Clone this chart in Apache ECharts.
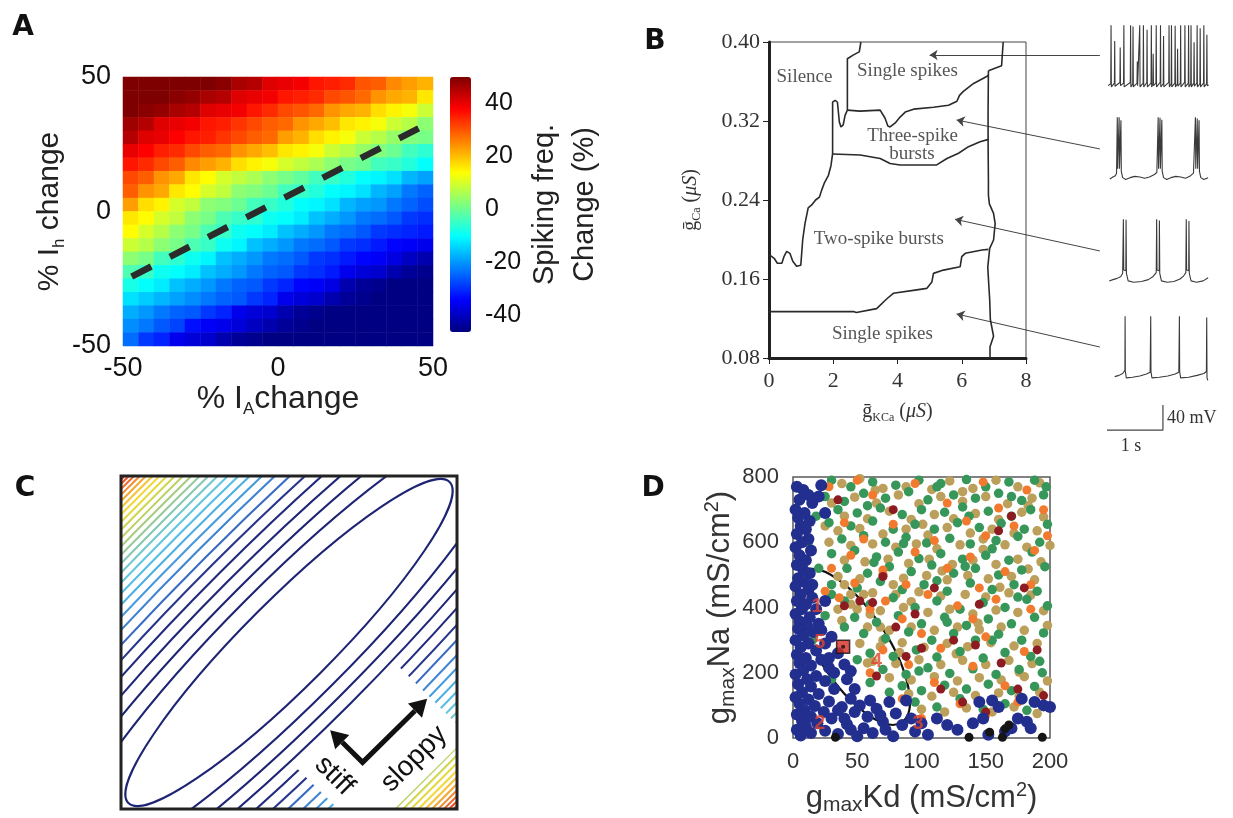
<!DOCTYPE html>
<html>
<head>
<meta charset="utf-8">
<script src="https://cdn.jsdelivr.net/npm/echarts@6.0.0/dist/echarts.min.js"></script>
<style>
  html, body { margin: 0; padding: 0; background: #ffffff; }
  #c { width: 1233px; height: 818px; }
</style>
</head>
<body>
<div id="c"></div>
<script>
// ---------------- Panel A: spiking frequency change (%) ----------------
// 20 x 20 grid, columns = % I_A change (-50 .. 50), rows = % I_h change (top row = +50)
const freqRows = [
  [50,50,50,50,50,50,49,46,45,41,40,39,36,35,34,30,29,25,23,21],
  [50,50,50,49,48,46,45,41,40,39,36,35,34,31,30,28,24,22,21,16],
  [50,49,48,46,45,41,40,39,36,34,31,30,28,24,22,21,17,15,13,9],
  [47,45,41,40,39,36,35,33,31,29,28,24,22,20,16,15,13,9,7,3],
  [45,41,40,38,36,35,33,31,29,28,23,21,17,15,13,9,7,4,2,1],
  [40,38,35,34,31,29,28,24,22,20,16,15,13,9,7,4,2,0,-4,-6],
  [36,34,31,29,25,23,21,17,15,13,10,8,6,3,1,0,-4,-5,-7,-10],
  [31,29,24,22,16,14,10,8,6,3,1,-1,-4,-5,-7,-10,-11,-13,-17,-19],
  [29,24,22,16,14,10,8,3,2,0,-4,-5,-7,-10,-11,-13,-17,-19,-23,-25],
  [23,17,15,10,8,3,2,0,-4,-5,-7,-10,-11,-13,-17,-19,-20,-23,-25,-27],
  [16,14,10,8,3,1,-3,-5,-6,-9,-10,-12,-16,-18,-20,-23,-24,-26,-29,-30],
  [14,10,7,3,1,-3,-5,-9,-10,-12,-16,-18,-20,-23,-24,-26,-29,-30,-31,-32],
  [9,7,3,1,-3,-5,-9,-11,-16,-18,-20,-23,-24,-26,-29,-30,-32,-34,-35,-36],
  [3,1,-4,-6,-9,-11,-16,-18,-20,-23,-24,-26,-29,-30,-32,-34,-35,-37,-40,-42],
  [-3,-5,-9,-10,-12,-16,-18,-20,-23,-25,-26,-29,-30,-32,-36,-38,-39,-42,-44,-45],
  [-8,-10,-12,-16,-18,-20,-23,-25,-26,-29,-31,-34,-35,-37,-42,-44,-45,-46,-46,-46],
  [-13,-15,-17,-19,-21,-23,-25,-26,-29,-31,-36,-38,-39,-42,-44,-45,-46,-46,-46,-46],
  [-18,-20,-23,-25,-26,-29,-31,-36,-38,-39,-42,-44,-45,-46,-46,-46,-46,-46,-46,-46],
  [-21,-23,-26,-28,-33,-35,-36,-38,-40,-42,-44,-45,-46,-46,-46,-46,-46,-46,-46,-46],
  [-24,-29,-31,-36,-38,-39,-42,-44,-45,-46,-46,-46,-46,-46,-46,-46,-46,-46,-46,-46]
];
const colorbarTicks = [-40, -20, 0, 20, 40];
const isoFreqLine = [[-47.2, -24.2], [48.5, 32.8]];   // equal-frequency direction

// ---------------- Panel B: activity map in (gKCa, gCa) ----------------
const silenceEdge = [[0,0.184],[0.08,0.183],[0.16,0.181],[0.26,0.176],[0.40,0.176],[0.47,0.183],[0.55,0.188],[0.65,0.186],[0.74,0.178],[0.86,0.173],[0.99,0.174],[1.05,0.200],[1.12,0.216],[1.22,0.232],[1.33,0.235],[1.45,0.240],[1.57,0.243],[1.64,0.250],[1.72,0.257],[1.85,0.265],[1.93,0.275],[1.98,0.287],[1.98,0.339],[2.06,0.341],[2.13,0.339],[2.19,0.319],[2.24,0.314],[2.31,0.316],[2.37,0.326],[2.44,0.331],[2.44,0.383],[2.63,0.387],[2.81,0.390],[2.86,0.400]];
const threeSpikeTop = [[2.44,0.331],[2.83,0.330],[3.46,0.331],[3.61,0.323],[3.70,0.315],[3.77,0.314],[3.93,0.318],[4.08,0.324],[4.24,0.329],[4.50,0.332],[5.12,0.334],[5.59,0.336],[5.85,0.340],[5.93,0.346],[6.05,0.350],[6.37,0.358],[6.66,0.363],[6.83,0.366]];
const singleTopEdge = [[6.83,0.371],[7.24,0.376],[7.29,0.378],[7.29,0.400]];
const threeSpikeBottom = [[1.98,0.2866],[2.84,0.2856],[3.46,0.282],[3.77,0.277],[4.08,0.2755],[4.70,0.2755],[5.22,0.2755],[5.54,0.282],[5.90,0.2873],[6.21,0.294],[6.57,0.299],[6.83,0.3014]];
const twoSpikeBottom = [[0,0.127],[2.63,0.127],[2.72,0.126],[3.35,0.130],[3.67,0.140],[3.87,0.1455],[4.60,0.149],[4.91,0.1505],[5.07,0.157],[5.12,0.1657],[5.43,0.169],[5.95,0.1724],[6.00,0.1826],[6.11,0.186],[6.63,0.1894],[6.83,0.190]];
const rightEdge = [[6.83,0.371],[6.82,0.330],[6.82,0.300],[6.83,0.260],[6.83,0.245],[6.86,0.236],[6.99,0.2265],[7.04,0.216],[6.99,0.1995],[6.87,0.191],[6.81,0.172],[6.84,0.155],[6.87,0.139],[6.89,0.119],[6.99,0.102],[6.88,0.0915],[6.88,0.080]];
const regionLabels = [
  { name: 'Silence', value: [1.105, 0.3646] },
  { name: 'Single spikes', value: [4.31, 0.3706] },
  { name: 'Three-spike', value: [4.47, 0.3048] },
  { name: 'bursts', value: [4.45, 0.2866] },
  { name: 'Two-spike bursts', value: [3.42, 0.2005] },
  { name: 'Single spikes', value: [3.53, 0.1043] }
];
const regionPointers = [
  [[10.3, 0.3868], [5.00, 0.3868]],
  [[10.3, 0.2917], [5.84, 0.3210]],
  [[10.3, 0.1884], [5.79, 0.2205]],
  [[10.3, 0.0911], [5.84, 0.1246]]
];
// membrane potential traces: [time (s), voltage (mV)]
const traceSingleFast = [[0,-60],[0.045,-57],[0.05,35],[0.055,-62],[0.105,-56],[0.11,10],[0.115,-61],[0.195,-55],[0.2,0],[0.205,-60],[0.255,-56],[0.26,35],[0.265,-62],[0.365,-55],[0.37,35],[0.375,-62],[0.405,-57],[0.41,33],[0.415,-62],[0.475,-56],[0.48,-22],[0.485,-60],[0.515,-57],[0.52,35],[0.525,-62],[0.575,-56],[0.58,35],[0.585,-62],[0.635,-55],[0.64,28],[0.645,-62],[0.705,-56],[0.71,35],[0.715,-62],[0.735,-58],[0.74,-10],[0.745,-60],[0.785,-56],[0.79,35],[0.795,-62],[0.855,-55],[0.86,35],[0.865,-62],[0.905,-57],[0.91,18],[0.915,-62],[0.995,-55],[1.0,35],[1.005,-62],[1.035,-57],[1.04,35],[1.045,-62],[1.095,-56],[1.1,34],[1.105,-62],[1.135,-57],[1.14,-2],[1.145,-61],[1.185,-56],[1.19,35],[1.195,-62],[1.255,-55],[1.26,35],[1.265,-62],[1.315,-56],[1.32,35],[1.325,-62],[1.355,-57],[1.36,35],[1.365,-62],[1.405,-56],[1.41,8],[1.415,-61],[1.455,-56],[1.46,35],[1.465,-62],[1.505,-57],[1.51,30],[1.515,-62],[1.565,-56],[1.57,35],[1.575,-62],[1.615,-57],[1.62,20],[1.625,-60],[1.65,-59]];
const traceThreeBurst = [[0.03,-62],[0.08,-59],[0.12,-57],[0.14,-53],[0.148,-50],[0.152,35],[0.158,-46],[0.178,-47],[0.182,35],[0.188,-46],[0.208,-48],[0.212,30],[0.218,-50],[0.24,-60],[0.29,-63],[0.36,-60],[0.44,-58],[0.52,-59],[0.6,-61],[0.68,-59],[0.76,-55],[0.8,-52],[0.818,-50],[0.822,35],[0.828,-46],[0.848,-47],[0.852,34],[0.858,-46],[0.878,-48],[0.882,31],[0.888,-50],[0.91,-60],[0.96,-63],[1.03,-60],[1.11,-58],[1.19,-59],[1.27,-61],[1.34,-58],[1.4,-53],[1.428,-50],[1.432,35],[1.438,-46],[1.458,-47],[1.462,33],[1.468,-46],[1.488,-48],[1.492,30],[1.498,-50],[1.52,-60],[1.57,-63],[1.64,-60]];
const traceTwoBurst = [[0.02,-62],[0.08,-60],[0.15,-58],[0.21,-55],[0.24,-50],[0.248,-47],[0.252,35],[0.258,-45],[0.292,-46],[0.296,34],[0.302,-50],[0.33,-62],[0.42,-64],[0.55,-63],[0.66,-60],[0.74,-55],[0.79,-49],[0.797,35],[0.803,-45],[0.838,-46],[0.842,33],[0.848,-50],[0.875,-62],[0.97,-64],[1.08,-63],[1.18,-59],[1.24,-54],[1.275,-49],[1.282,35],[1.288,-45],[1.322,-46],[1.326,32],[1.332,-50],[1.36,-62],[1.45,-64],[1.56,-62],[1.64,-57]];
const traceSingleSlow = [[0.11,-60],[0.18,-58],[0.24,-55],[0.27,-52],[0.277,-50],[0.28,35],[0.284,-52],[0.3,-62],[0.4,-61],[0.52,-59],[0.63,-56],[0.69,-53],[0.697,-50],[0.70,35],[0.704,-52],[0.72,-62],[0.84,-61],[0.98,-59],[1.1,-56],[1.16,-53],[1.167,-50],[1.17,35],[1.174,-52],[1.19,-62],[1.32,-61],[1.46,-58],[1.57,-55],[1.612,-52],[1.617,33],[1.622,-62],[1.635,-66]];
const scaleBar = [[-0.098, -143.9], [0.9, -143.9], [0.9, -104.6]];   // 1 s by 40 mV

// ---------------- Panel C: cost-function contours ----------------
// semi-axis of each contour across the stiff direction (box spans -1 .. 1)
const contourMinor = [0.260,0.360,0.440,0.515,0.585,0.650,0.710,0.770,0.822,0.872,0.918,0.962,1.004,1.042,1.078,1.113,1.148,1.182,1.215,1.246,1.275,1.303,1.329,1.353,1.375,1.393,1.410];
const contourColors = ['#1e2474','#1e2474','#1e2474','#1f2677','#212a7c','#28368c',
  '#3a6cc4','#4084d2','#469ade','#4cb0e4',
  '#54bee6','#62c6de','#72c8cc',
  '#84cab4','#96cb9a','#a8cd80','#bcd268',
  '#d0d650','#e4da44','#f2d83c','#f6c438',
  '#f4a834','#f28c32','#ee6e30',
  '#e8542e','#de3e2c','#d02c2c'];
const sloppyRatio = 5.2;

// ---------------- Panel D: maximal conductances of model neurons ----------------
const ptsTan = [[38,780],[52,795],[70,765],[88,770],[108,762],[122,788],[140,765],[158,790],[175,770],[192,782],
  [30,720],[48,738],[65,720],[82,745],[98,718],[115,740],[132,725],[150,740],[167,718],[186,735],
  [40,680],[58,672],[75,695],[92,670],[110,685],[125,672],[142,688],[160,670],[178,692],[195,678],
  [35,635],[52,642],[70,625],[88,640],[105,622],[120,645],[138,628],[155,640],[172,628],[190,635],
  [45,590],[62,595],[80,585],[96,595],[112,580],[130,592],[148,578],[165,592],[182,585],[200,590],
  [40,545],[56,540],[74,548],[90,535],[106,548],[124,532],[140,545],[158,532],[175,548],[193,540],
  [35,495],[52,488],[70,500],[86,490],[104,498],[120,485],[136,498],[152,488],[170,495],[188,485],
  [45,440],[62,445],[80,440],[98,448],[115,435],[134,440],[150,432],[168,445],[185,438],
  [50,395],[68,390],[86,400],[105,385],[122,395],[140,380],[158,392],[175,385],[195,390],
  [38,360],[58,340],[75,330],[92,340],[110,330],[128,340],[145,332],[162,340],[180,330],[198,345],
  [52,290],[68,280],[85,292],[102,278],[120,290],[136,280],[154,292],[172,282],[190,290],
  [62,235],[80,228],[98,240],[115,225],[132,238],[150,225],[168,238],[186,228],
  [75,185],[92,178],[110,188],[128,175],[145,185],[162,178],[180,188],[198,175],
  [90,135],[108,128],[125,140],[142,130],[160,138],[176,128],[192,140],
  [100,88],[118,80],[135,92],[155,80],[172,95],[190,75],
  [55,440],[45,410],[35,395],[60,380],[68,340],[58,230],[70,300],[40,470],[28,600],[25,650],
  [64,760],[132,755],[183,712],[101,655],[148,610],[116,512],[183,518],[78,470],[161,462],[92,418],[144,352],[83,262],[127,258],[176,202]];
const ptsGreen = [[30,790],[45,770],[62,785],[80,775],[98,790],[115,780],[135,792],[150,770],[168,785],[188,790],[197,770],
  [25,740],[40,725],[55,750],[72,735],[90,755],[105,730],[125,745],[142,735],[160,750],[178,728],[195,745],
  [35,700],[50,690],[68,705],[85,685],[100,700],[118,692],[132,708],[152,695],[170,680],[185,700],
  [28,660],[45,650],[62,665],[78,640],[95,655],[110,640],[128,660],[145,645],[162,658],[180,640],[198,655],
  [38,610],[55,620],[72,600],[88,615],[104,598],[122,612],[138,595],[158,605],[175,618],[192,600],
  [30,565],[48,575],[65,555],[82,570],[98,550],[115,565],[132,548],[150,560],[168,545],[186,570],
  [42,520],[58,505],[75,525],[92,510],[108,530],[125,505],[142,520],[160,500],[178,515],[196,525],
  [30,470],[50,460],[68,480],[85,455],[102,470],[120,450],[138,475],[155,455],[172,470],[190,450],
  [40,420],[60,410],[78,430],[95,400],[112,420],[130,395],[148,415],[165,400],[182,425],[198,405],
  [48,370],[65,355],[82,375],[100,350],[118,370],[135,345],[152,365],[170,350],[188,370],
  [55,320],[72,305],[90,325],[108,300],[125,320],[142,300],[160,318],[178,300],[195,322],
  [60,260],[78,250],[96,270],[112,248],[130,265],[148,245],[165,262],[185,250],
  [70,210],[88,195],[105,215],[122,198],[140,212],[158,195],[176,210],[194,200],
  [85,160],[100,145],[118,162],[135,150],[152,165],[170,145],[188,158],
  [95,110],[112,95],[130,120],[148,88],[165,105],[182,85],
  [40,340],[25,375],[15,300],[30,440],[20,520],[12,600],[18,680],[50,240],[30,180],[60,170],[75,140],[45,200],
  [112,770],[170,740],[58,712],[137,680],[86,596],[155,580],[63,538],[134,526],[112,482],[175,432],[120,355],[98,205],[155,300],[192,235]];
const ptsOrange = [[50,790],[95,780],[148,785],[182,760],[28,770],[62,745],[120,720],[160,705],[195,700],[40,660],[78,655],[135,665],[172,650],[55,610],[110,605],[150,620],[188,575],[45,560],[95,570],[138,555],[30,520],[70,515],[120,520],[165,510],[48,475],[88,470],[145,460],[185,470],[36,430],[72,420],[105,440],[158,425],[60,395],[128,405],[185,395],[85,365],[140,365],[100,320],[150,310],[70,270],[115,275],[180,265],[90,225],[140,220],[60,200],[110,170],[165,160],[85,120],[130,105],[175,110],[100,60],[150,70],[65,90],[198,620],[25,450]];
const ptsDarkRed = [[35,730],[78,700],[170,680],[160,635],[52,420],[62,415],[40,405],[70,495],[95,380],[125,300],[142,285],[100,275],[88,250],[65,190],[115,150],[132,110],[150,80],[190,270],[162,230],[175,150],[145,410],[110,460],[180,460],[195,130],[80,340]];
const ptsBlue = [[3,770],[8,760],[12,745],[5,730],[15,720],[2,700],[9,690],[4,675],[13,665],[6,650],[10,640],[3,625],[12,610],[7,600],[2,585],[14,575],[5,560],[10,545],[3,530],[8,515],[13,505],[4,490],[9,478],[2,465],[12,455],[6,440],[15,430],[3,420],[10,410],[7,395],[2,380],[13,370],[5,358],[11,345],[4,335],[16,325],[8,315],[2,300],[12,290],[6,278],[18,268],[3,255],[10,245],[22,240],[5,230],[14,222],[28,215],[8,208],[2,195],[18,190],[11,180],[25,175],[4,165],[14,158],[32,150],[7,140],[20,135],[2,125],[12,118],[28,112],[5,105],[17,98],[38,95],[9,85],[24,80],[3,72],[14,65],[30,60],[7,52],[19,45],[42,42],[10,35],[3,25],[25,22],[14,15],[35,12],[6,8],
  [22,330],[30,310],[25,290],[35,260],[28,245],[40,225],[32,200],[45,205],[20,350],[18,395],[25,420],[15,470],[22,775],[20,740],[25,690],
  [45,120],[52,100],[60,115],[48,80],[58,65],[65,90],[70,50],[75,110],[80,75],[85,40],[88,115],[92,60],[95,20],[55,30],[62,15],[40,60],[45,25],[72,25],[100,45],[105,10],[78,5],[50,5],[68,70],[35,85],[48,150],[42,180],
  [120,40],[128,25],[140,45],[148,60],[155,115],[160,95],[170,30],[175,60],[182,50],[188,110],[195,100],[200,95],[178,120],[165,20],[145,110],[152,10],[185,30],[112,60]];
const ptsBlack = [[33,2],[137,2],[153,18],[163,2],[165,28],[168,40],[194,2]];
const refModel = [39, 280];
const modelLabels = [
  { name: '1', value: [18.7, 404] },
  { name: '5', value: [20.8, 292] },
  { name: '4', value: [65, 234] },
  { name: '2', value: [20.8, 46] },
  { name: '3', value: [97.4, 46] }
];
const fitEllipse = { center: [46.5, 279], semiMajor: 70, semiMinor: 27.3, tiltDeg: -57 };

// ---------------- drawing ----------------
const SANS = "'Liberation Sans', Arial, Helvetica, sans-serif";
const SERIF = "'Liberation Serif', 'DejaVu Serif', serif";
const jet = ['#00007f','#0000ff','#007fff','#00ffff','#7fff7f','#ffff00','#ff7f00','#ff0000','#7f0000'];

const heatData = [];
freqRows.forEach((row, r) => row.forEach((v, c) => heatData.push([c, freqRows.length - 1 - r, v])));
const idx20 = freqRows[0].map((_, i) => i);

const chart = echarts.init(document.getElementById('c'), null, { renderer: 'canvas', width: 1233, height: 818 });

function hiddenValueAxis(grid, min, max) {
  return { type: 'value', gridIndex: grid, min: min, max: max, show: false };
}

const traceTops = [22, 114, 216, 313];
const traces = [traceSingleFast, traceThreeBurst, traceTwoBurst, traceSingleSlow];

function arrowHead(tip, from, len, half) {
  const dx = tip[0] - from[0], dy = tip[1] - from[1];
  const L = Math.hypot(dx, dy), ux = dx / L, uy = dy / L;
  const bx = tip[0] - ux * len, by = tip[1] - uy * len;
  return { base: [bx, by], points: [[tip[0], tip[1]], [bx - uy * half, by + ux * half], [bx + uy * half, by - ux * half]] };
}

const option = {
  animation: false,
  backgroundColor: '#ffffff',
  textStyle: { fontFamily: SANS },
  grid: [
    { left: 123, top: 77, width: 310, height: 269 },                 // 0 A
    { left: 450, top: 77, width: 21, height: 255 },                  // 1 colorbar
    { left: 769, top: 42, width: 257, height: 316, show: true, borderColor: '#444', borderWidth: 1 }, // 2 B
    { left: 1108, top: traceTops[0], width: 105, height: 70 },       // 3..6 traces
    { left: 1108, top: traceTops[1], width: 105, height: 70 },
    { left: 1108, top: traceTops[2], width: 105, height: 70 },
    { left: 1108, top: traceTops[3], width: 105, height: 70 },
    { left: 121, top: 476, width: 336, height: 333 },                // 7 C
    { left: 793, top: 477, width: 257, height: 261, show: true, borderColor: '#5a5a5a', borderWidth: 1.5 } // 8 D
  ],
  xAxis: [
    { type: 'category', gridIndex: 0, data: idx20, show: false, position: 'top' },
    { type: 'value', gridIndex: 0, position: 'bottom', min: -50, max: 50, interval: 50,
      axisLine: { show: false }, axisTick: { show: false }, splitLine: { show: false },
      axisLabel: { fontSize: 27, color: '#111', margin: 9, fontFamily: SANS },
      name: '{a|% I}{b|A}{a|change}', nameLocation: 'middle', nameGap: 26,
      nameTextStyle: { color: '#222', rich: {
        a: { fontSize: 32, lineHeight: 38, fontFamily: SANS, color: '#222' },
        b: { fontSize: 17, lineHeight: 22, verticalAlign: 'bottom', fontFamily: SANS, color: '#222' } } } },
    hiddenValueAxis(1, 0, 1),
    { type: 'value', gridIndex: 2, min: 0, max: 8, interval: 2,
      axisLine: { lineStyle: { color: '#222', width: 3 } },
      axisTick: { show: true, length: 6, lineStyle: { color: '#222', width: 1 } },
      splitLine: { show: false },
      axisLabel: { fontSize: 22, color: '#333', margin: 12, fontFamily: SERIF },
      name: '{g|ḡ}{sub|KCa}{g| (}{it|μS}{g|)}', nameLocation: 'middle', nameGap: 42,
      nameTextStyle: { rich: {
        g: { fontSize: 20, lineHeight: 24, fontFamily: SERIF, color: '#333' },
        it: { fontSize: 20, lineHeight: 24, fontFamily: SERIF, fontStyle: 'italic', color: '#333' },
        sub: { fontSize: 12, lineHeight: 13, verticalAlign: 'bottom', fontFamily: SERIF, color: '#333' } } } },
    hiddenValueAxis(3, 0, 1.72),
    hiddenValueAxis(4, 0, 1.72),
    hiddenValueAxis(5, 0, 1.72),
    hiddenValueAxis(6, 0, 1.72),
    hiddenValueAxis(7, -1, 1),
    { type: 'value', gridIndex: 8, min: 0, max: 200, interval: 50,
      axisLine: { show: false }, axisTick: { show: false }, splitLine: { show: false },
      axisLabel: { fontSize: 22, color: '#333', margin: 13, fontFamily: SANS },
      name: '{g|g}{s|max}{g|Kd (mS/cm}{p|2}{g|)}', nameLocation: 'middle', nameGap: 42,
      nameTextStyle: { rich: {
        g: { fontSize: 31, lineHeight: 36, fontFamily: SANS, color: '#333' },
        s: { fontSize: 21, lineHeight: 26, verticalAlign: 'bottom', fontFamily: SANS, color: '#333' },
        p: { fontSize: 20, lineHeight: 20, verticalAlign: 'top', fontFamily: SANS, color: '#333' } } } }
  ],
  yAxis: [
    { type: 'category', gridIndex: 0, data: idx20, show: false, position: 'right' },
    { type: 'value', gridIndex: 0, position: 'left', min: -50, max: 50, interval: 50,
      axisLine: { show: false }, axisTick: { show: false }, splitLine: { show: false },
      axisLabel: { fontSize: 27, color: '#111', margin: 12, fontFamily: SANS },
      name: '{a|% I}{b|h}{a| change}', nameLocation: 'middle', nameRotate: 90, nameGap: 43,
      nameTextStyle: { rich: {
        a: { fontSize: 30, lineHeight: 36, fontFamily: SANS, color: '#222' },
        b: { fontSize: 17, lineHeight: 22, verticalAlign: 'bottom', fontFamily: SANS, color: '#222' } } } },
    { type: 'value', gridIndex: 1, min: -46.4, max: 50, position: 'right',
      axisLine: { show: false }, axisTick: { show: false }, splitLine: { show: false },
      axisLabel: { customValues: colorbarTicks, fontSize: 25, color: '#111', margin: 14, fontFamily: SANS },
      name: 'Spiking freq.\nChange (%)', nameLocation: 'middle', nameRotate: 90, nameGap: 50,
      nameTextStyle: { fontSize: 29, lineHeight: 40, color: '#222', fontFamily: SANS } },
    { type: 'value', gridIndex: 2, min: 0.08, max: 0.40, interval: 0.08,
      axisLine: { lineStyle: { color: '#222', width: 3 } },
      axisTick: { show: true, length: 6, lineStyle: { color: '#222', width: 1 } },
      splitLine: { show: false },
      axisLabel: { fontSize: 22, color: '#333', margin: 9, fontFamily: SERIF, formatter: v => v.toFixed(2) },
      name: '{g|ḡ}{sub|Ca}{g| (}{it|μS}{g|)}', nameLocation: 'middle', nameRotate: 90, nameGap: 66,
      nameTextStyle: { rich: {
        g: { fontSize: 20, lineHeight: 24, fontFamily: SERIF, color: '#333' },
        it: { fontSize: 20, lineHeight: 24, fontFamily: SERIF, fontStyle: 'italic', color: '#333' },
        sub: { fontSize: 12, lineHeight: 13, verticalAlign: 'bottom', fontFamily: SERIF, color: '#333' } } } },
    hiddenValueAxis(3, -70, 40),
    hiddenValueAxis(4, -70, 40),
    hiddenValueAxis(5, -70, 40),
    hiddenValueAxis(6, -70, 40),
    hiddenValueAxis(7, -1, 1),
    { type: 'value', gridIndex: 8, min: 0, max: 800, interval: 200,
      axisLine: { show: false }, axisTick: { show: false }, splitLine: { show: false },
      axisLabel: { fontSize: 22, color: '#333', margin: 14, fontFamily: SANS },
      name: '{g|g}{s|max}{g|Na (mS/cm}{p|2}{g|)}', nameLocation: 'middle', nameRotate: 90, nameGap: 52,
      nameTextStyle: { rich: {
        g: { fontSize: 31, lineHeight: 36, fontFamily: SANS, color: '#333' },
        s: { fontSize: 21, lineHeight: 26, verticalAlign: 'bottom', fontFamily: SANS, color: '#333' },
        p: { fontSize: 20, lineHeight: 20, verticalAlign: 'top', fontFamily: SANS, color: '#333' } } } }
  ],
  visualMap: {
    type: 'continuous', seriesIndex: 0, dimension: 2, min: -46.4, max: 50,
    calculable: false, hoverLink: false, orient: 'vertical',
    left: 450, top: 77, itemWidth: 21, itemHeight: 255, padding: 0, text: null,
    inRange: { color: jet }
  },
  graphic: [
    { type: 'text', x: 23, y: 28, style: { text: 'A', fontSize: 28, fontWeight: 'bold', fontFamily: "'DejaVu Sans', sans-serif", fill: '#111', align: 'center', verticalAlign: 'middle' } },
    { type: 'text', x: 655, y: 42, style: { text: 'B', fontSize: 28, fontWeight: 'bold', fontFamily: "'DejaVu Sans', sans-serif", fill: '#111', align: 'center', verticalAlign: 'middle' } },
    { type: 'text', x: 25, y: 489, style: { text: 'C', fontSize: 28, fontWeight: 'bold', fontFamily: "'DejaVu Sans', sans-serif", fill: '#111', align: 'center', verticalAlign: 'middle' } },
    { type: 'text', x: 653, y: 489, style: { text: 'D', fontSize: 28, fontWeight: 'bold', fontFamily: "'DejaVu Sans', sans-serif", fill: '#111', align: 'center', verticalAlign: 'middle' } },
    { type: 'text', x: 1167, y: 418, style: { text: '40 mV', fontSize: 18, fontFamily: SERIF, fill: '#333', align: 'left', verticalAlign: 'middle' } },
    { type: 'text', x: 1131, y: 446, style: { text: '1 s', fontSize: 18, fontFamily: SERIF, fill: '#333', align: 'center', verticalAlign: 'middle' } }
  ],
  series: [
    // ---- A ----
    { type: 'heatmap', xAxisIndex: 0, yAxisIndex: 0, data: heatData, progressive: 0, emphasis: { disabled: true } },
    { type: 'line', xAxisIndex: 1, yAxisIndex: 1, data: isoFreqLine, symbol: 'none', z: 5,
      lineStyle: { color: '#2b2b2b', width: 6.5, type: [22, 21] } },
    // ---- B ----
    ...[silenceEdge, threeSpikeTop, singleTopEdge, threeSpikeBottom, twoSpikeBottom, rightEdge].map(edge => ({
      type: 'line', xAxisIndex: 3, yAxisIndex: 3, data: edge, symbol: 'none',
      lineStyle: { color: '#2a2a2a', width: 1.6 } })),
    { type: 'scatter', xAxisIndex: 3, yAxisIndex: 3, data: regionLabels, symbolSize: 0,
      label: { show: true, position: 'inside', formatter: '{b}', fontSize: 19, color: '#2b2b2b', fontFamily: SERIF } },
    { type: 'lines', coordinateSystem: 'cartesian2d', xAxisIndex: 3, yAxisIndex: 3, clip: false,
      symbol: ['none', 'arrow'], symbolSize: 8,
      lineStyle: { color: '#444', width: 1, opacity: 1 },
      data: regionPointers.map(p => ({ coords: p })) },
    ...traces.map((t, i) => ({
      type: 'line', xAxisIndex: 4 + i, yAxisIndex: 4 + i, data: t, symbol: 'none',
      lineStyle: { color: '#3a3a3a', width: 1.1 } })),
    { type: 'line', xAxisIndex: 7, yAxisIndex: 7, data: scaleBar, symbol: 'none', clip: false,
      lineStyle: { color: '#444', width: 1.2 } },
    // ---- C ----
    { type: 'custom', xAxisIndex: 8, yAxisIndex: 8, clip: true, silent: true,
      data: contourMinor.map((m, i) => [0, 0, m, i]),
      renderItem: (params, api) => {
        const c = api.coord([api.value(0), api.value(1)]);
        const ry = api.size([api.value(2), 0])[0];
        return { type: 'ellipse', x: c[0], y: c[1], rotation: Math.PI / 4,
          shape: { cx: 0, cy: 0, rx: ry * sloppyRatio, ry: ry },
          style: { fill: 'none', stroke: contourColors[api.value(3)], lineWidth: 2.1 } };
      } },
    { type: 'custom', xAxisIndex: 8, yAxisIndex: 8, clip: true, silent: true, data: [[0, 0]],
      renderItem: (params, api) => {
        // white panel behind the direction annotation
        const corners = [[0.0424, -0.750], [0.651, -0.141], [1.068, -0.559], [0.460, -1.167]];
        return { type: 'polygon', shape: { points: corners.map(p => api.coord(p)) }, style: { fill: '#ffffff' } };
      } },
    { type: 'custom', xAxisIndex: 8, yAxisIndex: 8, clip: false, silent: true, data: [[0.438, -0.72]],
      renderItem: (params, api) => {
        const corner = api.coord([api.value(0), api.value(1)]);
        const stiffTip = api.coord([0.245, -0.527]);
        const sloppyTip = api.coord([0.822, -0.338]);
        const h1 = arrowHead(stiffTip, corner, 17, 10);
        const h2 = arrowHead(sloppyTip, corner, 17, 10);
        const sTxt = api.coord([0.27, -0.80]);
        const lTxt = api.coord([0.745, -0.70]);
        return { type: 'group', children: [
          { type: 'polyline', shape: { points: [h1.base, corner, h2.base] }, style: { stroke: '#111', lineWidth: 5, fill: 'none', lineJoin: 'miter' } },
          { type: 'polygon', shape: { points: h1.points }, style: { fill: '#111' } },
          { type: 'polygon', shape: { points: h2.points }, style: { fill: '#111' } },
          { type: 'text', x: sTxt[0], y: sTxt[1], rotation: -Math.PI / 4,
            style: { text: 'stiff', fontSize: 28, fontFamily: SANS, fill: '#111', align: 'center', verticalAlign: 'middle' } },
          { type: 'text', x: lTxt[0], y: lTxt[1], rotation: Math.PI / 4,
            style: { text: 'sloppy', fontSize: 28, fontFamily: SANS, fill: '#111', align: 'center', verticalAlign: 'middle' } }
        ] };
      } },
    { type: 'custom', xAxisIndex: 8, yAxisIndex: 8, clip: false, silent: true, data: [[-1, 1, 1, -1]], z: 10,
      renderItem: (params, api) => {
        const a = api.coord([api.value(0), api.value(1)]);
        const b = api.coord([api.value(2), api.value(3)]);
        return { type: 'rect', shape: { x: a[0], y: a[1], width: b[0] - a[0], height: b[1] - a[1] },
          style: { fill: 'none', stroke: '#222', lineWidth: 3 } };
      } },
    // ---- D ----
    { type: 'scatter', xAxisIndex: 9, yAxisIndex: 9, data: ptsTan, symbolSize: 9.5, clip: false, itemStyle: { color: '#bb9f5a', opacity: 1 } },
    { type: 'scatter', xAxisIndex: 9, yAxisIndex: 9, data: ptsGreen, symbolSize: 9.5, clip: false, itemStyle: { color: '#37975b', opacity: 1 } },
    { type: 'scatter', xAxisIndex: 9, yAxisIndex: 9, data: ptsOrange, symbolSize: 9, clip: false, itemStyle: { color: '#f27a2e', opacity: 1 } },
    { type: 'scatter', xAxisIndex: 9, yAxisIndex: 9, data: ptsDarkRed, symbolSize: 9, clip: false, itemStyle: { color: '#8c1c22', opacity: 1 } },
    { type: 'scatter', xAxisIndex: 9, yAxisIndex: 9, data: ptsBlue, symbolSize: 12, clip: false, itemStyle: { color: '#232f8f', opacity: 1 } },
    { type: 'scatter', xAxisIndex: 9, yAxisIndex: 9, data: ptsBlack, symbolSize: 9, clip: false, itemStyle: { color: '#151515', opacity: 1 } },
    { type: 'custom', xAxisIndex: 9, yAxisIndex: 9, clip: false, silent: true, data: [fitEllipse.center],
      renderItem: (params, api) => {
        const c = api.coord([api.value(0), api.value(1)]);
        const rx = api.size([fitEllipse.semiMajor, 0])[0];
        const ry = api.size([fitEllipse.semiMinor, 0])[0];
        return { type: 'ellipse', x: c[0], y: c[1], rotation: fitEllipse.tiltDeg * Math.PI / 180,
          shape: { cx: 0, cy: 0, rx: rx, ry: ry }, style: { fill: 'none', stroke: '#111', lineWidth: 2.2 } };
      } },
    { type: 'scatter', xAxisIndex: 9, yAxisIndex: 9, data: [refModel], symbol: 'rect', symbolSize: 13, clip: false,
      itemStyle: { color: '#d42a1f', borderColor: '#111', borderWidth: 1.5 }, z: 6 },
    { type: 'scatter', xAxisIndex: 9, yAxisIndex: 9, data: [refModel], symbolSize: 4, clip: false,
      itemStyle: { color: '#111' }, z: 7 },
    { type: 'scatter', xAxisIndex: 9, yAxisIndex: 9, data: modelLabels, symbolSize: 0, z: 8,
      label: { show: true, position: 'inside', formatter: '{b}', fontSize: 20, fontWeight: 'bold', color: '#e0442c', fontFamily: SANS } }
  ]
};
chart.setOption(option);
</script>
</body>
</html>
